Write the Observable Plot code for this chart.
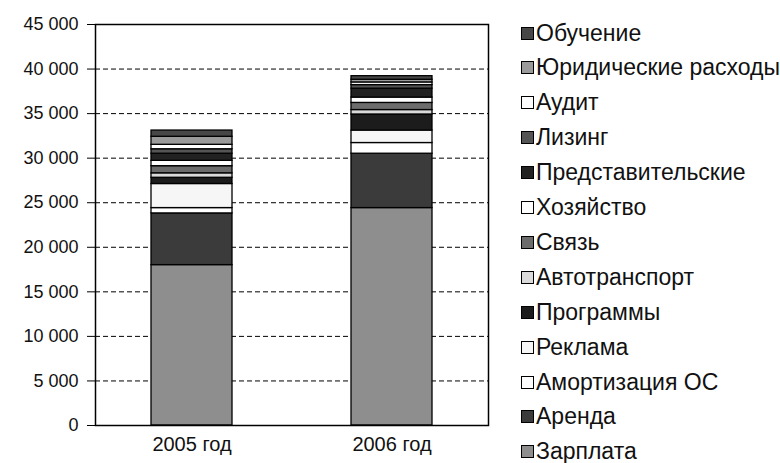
<!DOCTYPE html>
<html>
<head>
<meta charset="utf-8">
<script src="https://cdn.jsdelivr.net/npm/d3@7"></script>
<script src="https://cdn.jsdelivr.net/npm/@observablehq/plot@0.6"></script>
<style>
  html, body { margin: 0; padding: 0; background: #fff; }
  #wrap { position: relative; width: 780px; height: 463px; font-family: "Liberation Sans", Arial, sans-serif; }
  #legend { position: absolute; left: 521px; top: 0; }
  .item { position: absolute; left: 0; display: flex; align-items: center; white-space: nowrap; font-size: 23px; color: #111; font-family: "Liberation Sans", Arial, sans-serif; }
  .sw { width: 11px; height: 11px; border: 1px solid #000; margin-right: 2px; }
</style>
</head>
<body>
<div id="wrap"><div id="chart"></div><div id="legend"></div></div>
<script>
const years = ["2005 год", "2006 год"];
const seriesNames = ["Зарплата", "Аренда", "Амортизация ОС", "Реклама", "Программы", "Автотранспорт", "Связь", "Хозяйство", "Представительские", "Лизинг", "Аудит", "Юридические расходы", "Обучение"];
const values2005 = [18000, 5800, 600, 2700, 700, 500, 800, 600, 800, 500, 500, 900, 700];
const values2006 = [24400, 6100, 1200, 1400, 1800, 500, 800, 600, 1000, 400, 300, 300, 400];
const seriesColors = ["#8e8e8e", "#3b3b3b", "#ffffff", "#f6f6f6", "#1c1c1c", "#dadada", "#6c6c6c", "#ffffff", "#222222", "#555555", "#ffffff", "#9a9a9a", "#474747"];
const yTicks = [0, 5000, 10000, 15000, 20000, 25000, 30000, 35000, 40000, 45000];
const gridTicks = [5000, 10000, 15000, 20000, 25000, 30000, 35000, 40000];

const data = [];
seriesNames.forEach((s, i) => {
  data.push({year: years[0], series: s, value: values2005[i]});
  data.push({year: years[1], series: s, value: values2006[i]});
});

const fmt = d => d3.format(",")(d).replace(/,/g, " ");

const chart = Plot.plot({
  width: 780,
  height: 463,
  marginLeft: 95,
  marginRight: 292,
  marginTop: 24,
  marginBottom: 38,
  style: {fontSize: "18px", fontFamily: "'Liberation Sans', Arial, sans-serif", color: "#111", background: "#fff"},
  x: {domain: years, label: null, paddingInner: 0.595, paddingOuter: 0.28, align: 0.5},
  y: {domain: [0, 45000], label: null},
  color: {domain: seriesNames, range: seriesColors},
  marks: [
    Plot.ruleY(gridTicks, {stroke: "#000", strokeDasharray: "5,3", strokeWidth: 1}),
    Plot.barY(data, Plot.stackY({order: seriesNames}, {x: "year", y: "value", fill: "series", stroke: "#000", strokeWidth: 1.3})),
    Plot.frame({stroke: "#000", strokeWidth: 1.5}),
    Plot.axisY({ticks: yTicks, tickFormat: fmt, tickSize: 8, tickPadding: 9, stroke: "#000", fontSize: 18}),
    Plot.axisX({tickSize: 0, tickPadding: 11, fontSize: 20})
  ]
});
document.getElementById("chart").appendChild(chart);

const legend = document.getElementById("legend");
const order = seriesNames.slice().reverse();
order.forEach((s, i) => {
  const idx = seriesNames.indexOf(s);
  const it = document.createElement("div");
  it.className = "item";
  it.style.top = (33 + i * 34.9 - 13) + "px";
  it.style.height = "26px";
  const sw = document.createElement("span");
  sw.className = "sw";
  sw.style.background = seriesColors[idx];
  const tx = document.createElement("span");
  tx.textContent = s;
  it.appendChild(sw);
  it.appendChild(tx);
  legend.appendChild(it);
});
</script>
</body>
</html>
